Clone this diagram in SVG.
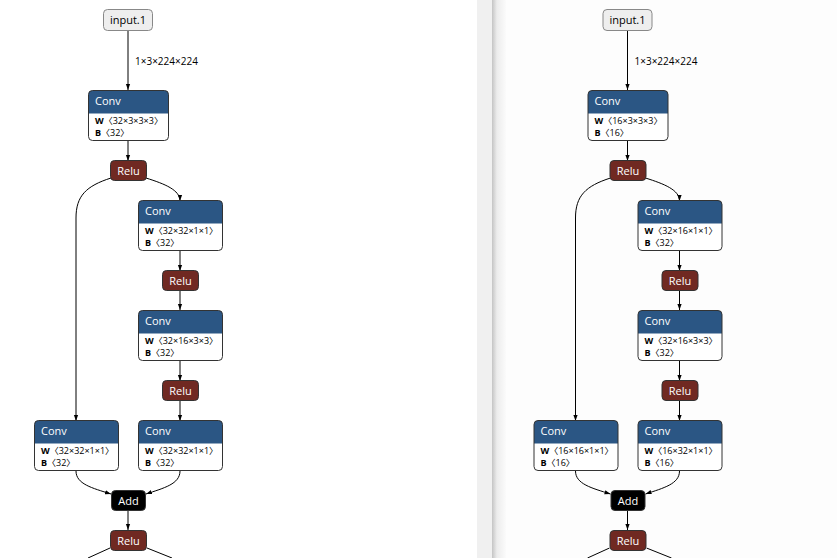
<svg xmlns="http://www.w3.org/2000/svg" width="837" height="558" viewBox="0 0 837 558">
  <defs>
    <marker id="arrow" viewBox="0 0 10 10" refX="10" refY="5" markerWidth="6" markerHeight="6" markerUnits="userSpaceOnUse" orient="auto">
      <path d="M0,1.5 L10,5 L0,8.5 z" fill="#000"/>
    </marker>
    <linearGradient id="shade" x1="0" y1="0" x2="1" y2="0">
      <stop offset="0" stop-color="#c4c4c4"/>
      <stop offset="0.35" stop-color="#ececec"/>
      <stop offset="1" stop-color="#fbfbfb"/>
    </linearGradient>
    <style>
      text { font-family: "Open Sans", "Noto Sans", "Noto Sans CJK SC", sans-serif; }
      .frame { fill: none; stroke: #333; stroke-width: 1; }
      .body { fill: #fff; }
      .layer { fill: #2b5684; }
      .act { fill: #702922; }
      .add { fill: #000; }
      .input { fill: #eee; stroke: #888; stroke-width: 1; }
      .title { font-size: 11px; fill: #fff; }
      .ititle { font-size: 11px; fill: #000; }
      .attr { font-size: 9px; fill: #000; }
      .attr tspan.k { font-weight: bold; }
      .attr tspan.b { font-family: "Noto Sans CJK SC", sans-serif; }
      .edge { fill: none; stroke: #000; stroke-width: 1; marker-end: url(#arrow); }
      .tail { fill: none; stroke: #000; stroke-width: 1; }
      .elabel { font-size: 10px; fill: #000; }
    </style>
    <!-- Conv block header band -->
    <path id="convHead" d="M4,0 H80 Q84,0 84,4 V23 H0 V4 Q0,0 4,0 z"/>
  </defs>

  <!-- panels -->
  <rect x="0" y="0" width="477" height="558" fill="#fff"/>
  <rect x="477" y="0" width="15" height="558" fill="#f0f0f0"/>
  <rect x="492" y="0" width="14" height="558" fill="url(#shade)"/>
  <rect x="506" y="0" width="331" height="558" fill="#fdfdfd"/>

  <!-- ===== left graph ===== -->
  <g id="graph-a">
    <g id="a-edges">
      <path class="edge" d="M128,30 V90"/>
      <text class="elabel" x="135" y="65">1×3×224×224</text>
      <path class="edge" d="M128,141 V161"/>
      <path class="edge" d="M111,178 C86,186 76,196 76,218 V421"/>
      <path class="edge" d="M146,178 C165,184 180,190 180,201"/>
      <path class="edge" d="M180,251 V271"/>
      <path class="edge" d="M180,291 V310"/>
      <path class="edge" d="M180,361 V381"/>
      <path class="edge" d="M180,401 V421"/>
      <path class="edge" d="M76,471 C76,484 92,488 111,494"/>
      <path class="edge" d="M180,471 C180,484 164,488 146,494"/>
      <path class="edge" d="M128,511 V530"/>
      <path class="tail" d="M110,548 L88,558"/>
      <path class="tail" d="M147,548 L172,558"/>
    </g>

    <g id="a-input">
      <rect class="input" x="103.5" y="9.5" width="49" height="21" rx="4"/>
      <text class="ititle" x="128" y="24" text-anchor="middle">input.1</text>
    </g>

    <g id="a-conv1" transform="translate(88.5,90.5)">
      <rect class="body" width="80" height="50" rx="4"/>
      <path class="layer" d="M4,0 H76 Q80,0 80,4 V23 H0 V4 Q0,0 4,0 z"/>
      <rect class="frame" width="80" height="50" rx="4"/>
      <text class="title" x="6.5" y="14.5">Conv</text>
      <text class="attr" x="6.5" y="33"><tspan class="k">W</tspan><tspan class="b">〈</tspan>32×3×3×3<tspan class="b">〉</tspan></text>
      <text class="attr" x="6.5" y="45"><tspan class="k">B</tspan><tspan class="b">〈</tspan>32<tspan class="b">〉</tspan></text>
    </g>

    <g id="a-relu1">
      <rect class="act" x="110.5" y="160.5" width="36" height="20" rx="4" stroke="#333"/>
      <text class="title" x="128.5" y="174.5" text-anchor="middle">Relu</text>
    </g>

    <g id="a-conv2" transform="translate(138.5,200.5)">
      <rect class="body" width="84" height="50" rx="4"/>
      <use href="#convHead" class="layer"/>
      <rect class="frame" width="84" height="50" rx="4"/>
      <text class="title" x="6.5" y="14.5">Conv</text>
      <text class="attr" x="6.5" y="33"><tspan class="k">W</tspan><tspan class="b">〈</tspan>32×32×1×1<tspan class="b">〉</tspan></text>
      <text class="attr" x="6.5" y="45"><tspan class="k">B</tspan><tspan class="b">〈</tspan>32<tspan class="b">〉</tspan></text>
    </g>

    <g id="a-relu2">
      <rect class="act" x="162.5" y="270.5" width="36" height="20" rx="4" stroke="#333"/>
      <text class="title" x="180.5" y="284.5" text-anchor="middle">Relu</text>
    </g>

    <g id="a-conv3" transform="translate(138.5,310.5)">
      <rect class="body" width="84" height="50" rx="4"/>
      <use href="#convHead" class="layer"/>
      <rect class="frame" width="84" height="50" rx="4"/>
      <text class="title" x="6.5" y="14.5">Conv</text>
      <text class="attr" x="6.5" y="33"><tspan class="k">W</tspan><tspan class="b">〈</tspan>32×16×3×3<tspan class="b">〉</tspan></text>
      <text class="attr" x="6.5" y="45"><tspan class="k">B</tspan><tspan class="b">〈</tspan>32<tspan class="b">〉</tspan></text>
    </g>

    <g id="a-relu3">
      <rect class="act" x="162.5" y="380.5" width="36" height="20" rx="4" stroke="#333"/>
      <text class="title" x="180.5" y="394.5" text-anchor="middle">Relu</text>
    </g>

    <g id="a-conv4" transform="translate(34.5,420.5)">
      <rect class="body" width="84" height="50" rx="4"/>
      <use href="#convHead" class="layer"/>
      <rect class="frame" width="84" height="50" rx="4"/>
      <text class="title" x="6.5" y="14.5">Conv</text>
      <text class="attr" x="6.5" y="33"><tspan class="k">W</tspan><tspan class="b">〈</tspan>32×32×1×1<tspan class="b">〉</tspan></text>
      <text class="attr" x="6.5" y="45"><tspan class="k">B</tspan><tspan class="b">〈</tspan>32<tspan class="b">〉</tspan></text>
    </g>

    <g id="a-conv5" transform="translate(138.5,420.5)">
      <rect class="body" width="84" height="50" rx="4"/>
      <use href="#convHead" class="layer"/>
      <rect class="frame" width="84" height="50" rx="4"/>
      <text class="title" x="6.5" y="14.5">Conv</text>
      <text class="attr" x="6.5" y="33"><tspan class="k">W</tspan><tspan class="b">〈</tspan>32×32×1×1<tspan class="b">〉</tspan></text>
      <text class="attr" x="6.5" y="45"><tspan class="k">B</tspan><tspan class="b">〈</tspan>32<tspan class="b">〉</tspan></text>
    </g>

    <g id="a-add">
      <rect class="add" x="111.5" y="490.5" width="34" height="20" rx="4" stroke="#333"/>
      <text class="title" x="128.5" y="504.5" text-anchor="middle">Add</text>
    </g>

    <g id="a-relu4">
      <rect class="act" x="110.5" y="530.5" width="36" height="20" rx="4" stroke="#333"/>
      <text class="title" x="128.5" y="544.5" text-anchor="middle">Relu</text>
    </g>
  </g>

  <!-- ===== right graph ===== -->
  <g id="graph-b" transform="translate(499.5,0)">
    <g id="b-edges">
      <path class="edge" d="M128,30 V90"/>
      <text class="elabel" x="135" y="65">1×3×224×224</text>
      <path class="edge" d="M128,141 V161"/>
      <path class="edge" d="M111,178 C86,186 76,196 76,218 V421"/>
      <path class="edge" d="M146,178 C165,184 180,190 180,201"/>
      <path class="edge" d="M180,251 V271"/>
      <path class="edge" d="M180,291 V310"/>
      <path class="edge" d="M180,361 V381"/>
      <path class="edge" d="M180,401 V421"/>
      <path class="edge" d="M76,471 C76,484 92,488 111,494"/>
      <path class="edge" d="M180,471 C180,484 164,488 146,494"/>
      <path class="edge" d="M128,511 V530"/>
      <path class="tail" d="M110,548 L88,558"/>
      <path class="tail" d="M147,548 L172,558"/>
    </g>

    <g id="b-input">
      <rect class="input" x="103.5" y="9.5" width="49" height="21" rx="4"/>
      <text class="ititle" x="128" y="24" text-anchor="middle">input.1</text>
    </g>

    <g id="b-conv1" transform="translate(88.5,90.5)">
      <rect class="body" width="80" height="50" rx="4"/>
      <path class="layer" d="M4,0 H76 Q80,0 80,4 V23 H0 V4 Q0,0 4,0 z"/>
      <rect class="frame" width="80" height="50" rx="4"/>
      <text class="title" x="6.5" y="14.5">Conv</text>
      <text class="attr" x="6.5" y="33"><tspan class="k">W</tspan><tspan class="b">〈</tspan>16×3×3×3<tspan class="b">〉</tspan></text>
      <text class="attr" x="6.5" y="45"><tspan class="k">B</tspan><tspan class="b">〈</tspan>16<tspan class="b">〉</tspan></text>
    </g>

    <g id="b-relu1">
      <rect class="act" x="110.5" y="160.5" width="36" height="20" rx="4" stroke="#333"/>
      <text class="title" x="128.5" y="174.5" text-anchor="middle">Relu</text>
    </g>

    <g id="b-conv2" transform="translate(138.5,200.5)">
      <rect class="body" width="84" height="50" rx="4"/>
      <use href="#convHead" class="layer"/>
      <rect class="frame" width="84" height="50" rx="4"/>
      <text class="title" x="6.5" y="14.5">Conv</text>
      <text class="attr" x="6.5" y="33"><tspan class="k">W</tspan><tspan class="b">〈</tspan>32×16×1×1<tspan class="b">〉</tspan></text>
      <text class="attr" x="6.5" y="45"><tspan class="k">B</tspan><tspan class="b">〈</tspan>32<tspan class="b">〉</tspan></text>
    </g>

    <g id="b-relu2">
      <rect class="act" x="162.5" y="270.5" width="36" height="20" rx="4" stroke="#333"/>
      <text class="title" x="180.5" y="284.5" text-anchor="middle">Relu</text>
    </g>

    <g id="b-conv3" transform="translate(138.5,310.5)">
      <rect class="body" width="84" height="50" rx="4"/>
      <use href="#convHead" class="layer"/>
      <rect class="frame" width="84" height="50" rx="4"/>
      <text class="title" x="6.5" y="14.5">Conv</text>
      <text class="attr" x="6.5" y="33"><tspan class="k">W</tspan><tspan class="b">〈</tspan>32×16×3×3<tspan class="b">〉</tspan></text>
      <text class="attr" x="6.5" y="45"><tspan class="k">B</tspan><tspan class="b">〈</tspan>32<tspan class="b">〉</tspan></text>
    </g>

    <g id="b-relu3">
      <rect class="act" x="162.5" y="380.5" width="36" height="20" rx="4" stroke="#333"/>
      <text class="title" x="180.5" y="394.5" text-anchor="middle">Relu</text>
    </g>

    <g id="b-conv4" transform="translate(34.5,420.5)">
      <rect class="body" width="84" height="50" rx="4"/>
      <use href="#convHead" class="layer"/>
      <rect class="frame" width="84" height="50" rx="4"/>
      <text class="title" x="6.5" y="14.5">Conv</text>
      <text class="attr" x="6.5" y="33"><tspan class="k">W</tspan><tspan class="b">〈</tspan>16×16×1×1<tspan class="b">〉</tspan></text>
      <text class="attr" x="6.5" y="45"><tspan class="k">B</tspan><tspan class="b">〈</tspan>16<tspan class="b">〉</tspan></text>
    </g>

    <g id="b-conv5" transform="translate(138.5,420.5)">
      <rect class="body" width="84" height="50" rx="4"/>
      <use href="#convHead" class="layer"/>
      <rect class="frame" width="84" height="50" rx="4"/>
      <text class="title" x="6.5" y="14.5">Conv</text>
      <text class="attr" x="6.5" y="33"><tspan class="k">W</tspan><tspan class="b">〈</tspan>16×32×1×1<tspan class="b">〉</tspan></text>
      <text class="attr" x="6.5" y="45"><tspan class="k">B</tspan><tspan class="b">〈</tspan>16<tspan class="b">〉</tspan></text>
    </g>

    <g id="b-add">
      <rect class="add" x="111.5" y="490.5" width="34" height="20" rx="4" stroke="#333"/>
      <text class="title" x="128.5" y="504.5" text-anchor="middle">Add</text>
    </g>

    <g id="b-relu4">
      <rect class="act" x="110.5" y="530.5" width="36" height="20" rx="4" stroke="#333"/>
      <text class="title" x="128.5" y="544.5" text-anchor="middle">Relu</text>
    </g>
  </g>
</svg>
